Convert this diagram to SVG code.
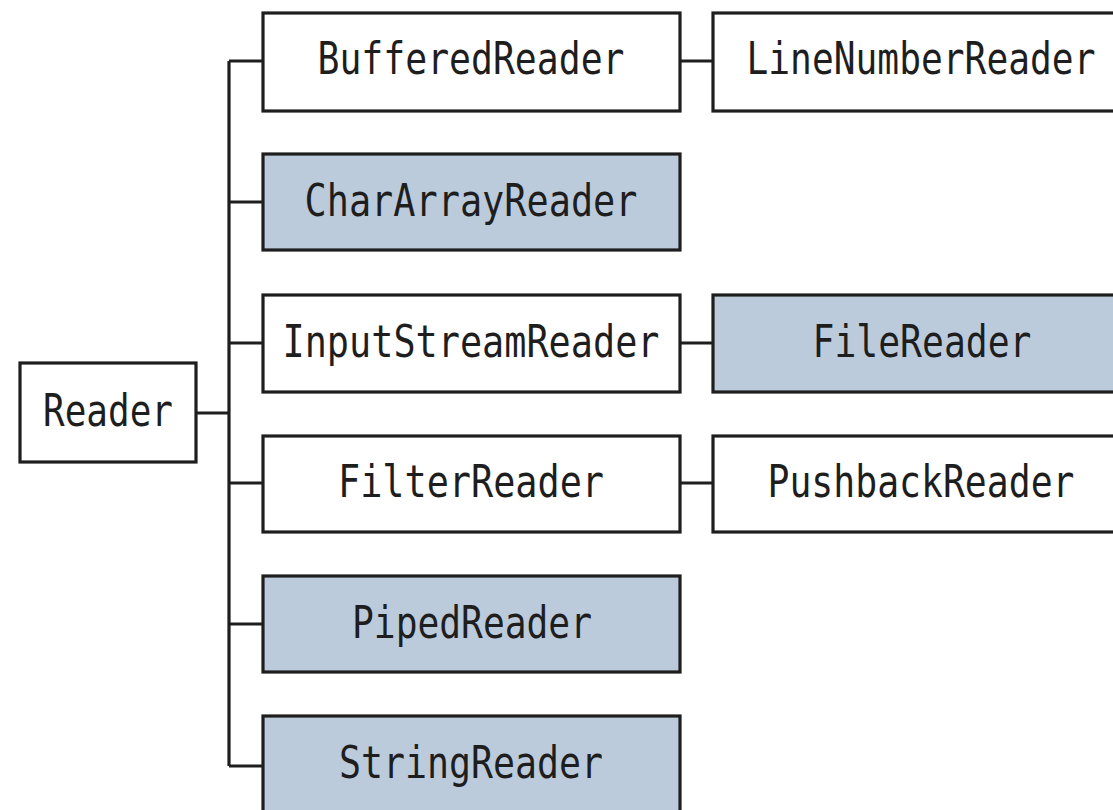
<svg xmlns="http://www.w3.org/2000/svg" width="1113" height="810" viewBox="0 0 1113 810">
<style>
.box{fill:#ffffff;stroke:#1e1e1e;stroke-width:3.2}
.fill{fill:#bbcbdb}
.lbl{font-family:"DejaVu Sans Mono","Liberation Mono",monospace;font-size:45px;fill:#1e1e1e;text-anchor:middle}
.con{fill:none;stroke:#1e1e1e;stroke-width:3.2}
</style>
<rect width="1113" height="810" fill="#ffffff"/>
<g id="connectors">
<path class="con" d="M229 61V766M196 413H229M229 61H262M229 202H262M229 343H262M229 483H262M229 624H262M229 766H262M680 61H713M680 343H713M680 483H713"/>
</g>
<g id="reader"><rect class="box" x="20" y="363" width="176" height="99"/><text class="lbl" x="108" y="426" textLength="130" lengthAdjust="spacingAndGlyphs">Reader</text></g>
<g id="bufferedreader"><rect class="box" x="263" y="13" width="417" height="98"/><text class="lbl" x="471" y="74" textLength="307" lengthAdjust="spacingAndGlyphs">BufferedReader</text></g>
<g id="linenumberreader"><rect class="box" x="713" y="13" width="420" height="98"/><text class="lbl" x="921" y="74" textLength="349" lengthAdjust="spacingAndGlyphs">LineNumberReader</text></g>
<g id="chararrayreader"><rect class="box fill" x="263" y="154" width="417" height="96"/><text class="lbl" x="471" y="216" textLength="333" lengthAdjust="spacingAndGlyphs">CharArrayReader</text></g>
<g id="inputstreamreader"><rect class="box" x="263" y="295" width="417" height="97"/><text class="lbl" x="471" y="357" textLength="377" lengthAdjust="spacingAndGlyphs">InputStreamReader</text></g>
<g id="filereader"><rect class="box fill" x="713" y="295" width="420" height="97"/><text class="lbl" x="922" y="357" textLength="219" lengthAdjust="spacingAndGlyphs">FileReader</text></g>
<g id="filterreader"><rect class="box" x="263" y="436" width="417" height="96"/><text class="lbl" x="471" y="497" textLength="266" lengthAdjust="spacingAndGlyphs">FilterReader</text></g>
<g id="pushbackreader"><rect class="box" x="713" y="436" width="420" height="96"/><text class="lbl" x="921" y="497" textLength="307" lengthAdjust="spacingAndGlyphs">PushbackReader</text></g>
<g id="pipedreader"><rect class="box fill" x="263" y="576" width="417" height="96"/><text class="lbl" x="472" y="638" textLength="240" lengthAdjust="spacingAndGlyphs">PipedReader</text></g>
<g id="stringreader"><rect class="box fill" x="263" y="716" width="417" height="98"/><text class="lbl" x="471" y="778" textLength="264" lengthAdjust="spacingAndGlyphs">StringReader</text></g>
</svg>
